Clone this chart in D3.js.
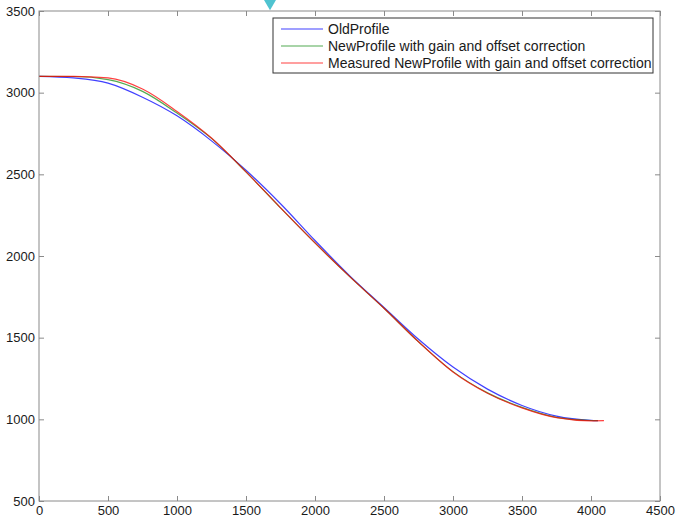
<!DOCTYPE html>
<html>
<head>
<meta charset="utf-8">
<script src="https://cdn.jsdelivr.net/npm/d3@7"></script>
<style>
  body { margin: 0; background: #fff; }
  svg text { font-family: "Liberation Sans", Arial, sans-serif; }
</style>
</head>
<body>
<svg width="677" height="522"></svg>
<script>
// values
var xTicks = [0, 500, 1000, 1500, 2000, 2500, 3000, 3500, 4000, 4500];
var yTicks = [500, 1000, 1500, 2000, 2500, 3000, 3500];

var oldX = [0, 250, 500, 750, 1000, 1250, 1500, 1750, 2000, 2250, 2500, 2750, 3000, 3250, 3500, 3750, 4000, 4050];
var oldY = [3100, 3090, 3058, 2972, 2858, 2705, 2525, 2320, 2095, 1880, 1685, 1490, 1320, 1185, 1085, 1020, 994, 992];

var newX = [0, 250, 500, 750, 1000, 1250, 1500, 1750, 2000, 2250, 2500, 2750, 3000, 3250, 3500, 3750, 4000, 4050];
var newY = [3100, 3099, 3080, 3008, 2875, 2720, 2515, 2295, 2080, 1875, 1680, 1475, 1292, 1162, 1073, 1012, 993, 992];

var measX = [0, 250, 500, 750, 1000, 1250, 1500, 1750, 2000, 2250, 2500, 2750, 3000, 3250, 3500, 3750, 4000, 4094];
var measY = [3100, 3100, 3090, 3022, 2885, 2722, 2515, 2295, 2080, 1875, 1680, 1475, 1290, 1160, 1070, 1010, 991, 992];

var seriesNames = ["OldProfile", "NewProfile with gain and offset correction", "Measured NewProfile with gain and offset correction"];
var seriesColors = ["#0000ff", "#1a8f1a", "#ff0000"];

var svg = d3.select("svg"),
    margin = {top: 11, right: 17, bottom: 21, left: 39},
    width = +svg.attr("width") - margin.left - margin.right,
    height = +svg.attr("height") - margin.top - margin.bottom;

var x = d3.scaleLinear().domain([0, 4500]).range([0, width]);
var y = d3.scaleLinear().domain([500, 3500]).range([height, 0]);

var g = svg.append("g")
    .attr("transform", "translate(" + margin.left + "," + margin.top + ")");

function zip(xs, ys) { return xs.map(function (d, i) { return {x: d, y: ys[i]}; }); }
var series = [zip(oldX, oldY), zip(newX, newY), zip(measX, measY)];

var line = d3.line()
    .x(function (d) { return x(d.x); })
    .y(function (d) { return y(d.y); })
    .curve(d3.curveMonotoneX);

series.forEach(function (s, i) {
  g.append("path")
    .datum(s)
    .attr("fill", "none")
    .attr("stroke", seriesColors[i])
    .attr("stroke-opacity", 0.75)
    .attr("stroke-width", 1.2)
    .attr("d", line);
});

// axes, MATLAB style: ticks inside, box on
var axisColor = "#8a8a8a";
function styleAxis(sel, showText) {
  sel.select(".domain").remove();
  sel.selectAll(".tick line").attr("stroke", axisColor);
  sel.selectAll(".tick text").attr("fill", "#1a1a1a").style("font-size", "13px");
  if (!showText) sel.selectAll(".tick text").remove();
}
var fmt = d3.format("d");

g.append("g")
    .attr("transform", "translate(0," + height + ")")
    .call(d3.axisBottom(x).tickValues(xTicks).tickFormat(fmt).tickSizeInner(-5).tickPadding(5))
    .call(styleAxis, true);
g.append("g")
    .call(d3.axisTop(x).tickValues(xTicks).tickSizeInner(-5))
    .call(styleAxis, false);
g.append("g")
    .call(d3.axisLeft(y).tickValues(yTicks).tickFormat(fmt).tickSizeInner(-5).tickPadding(4))
    .call(styleAxis, true);
g.append("g")
    .attr("transform", "translate(" + width + ",0)")
    .call(d3.axisRight(y).tickValues(yTicks).tickSizeInner(-5))
    .call(styleAxis, false);

g.append("rect")
    .attr("width", width)
    .attr("height", height)
    .attr("fill", "none")
    .attr("stroke", axisColor)
    .attr("stroke-width", 1);

// legend
var legend = g.append("g")
    .attr("transform", "translate(" + (273 - margin.left) + "," + (18 - margin.top) + ")");
legend.append("rect")
    .attr("width", 380)
    .attr("height", 55)
    .attr("fill", "#fff")
    .attr("stroke", "#333")
    .attr("stroke-width", 1);
seriesNames.forEach(function (name, i) {
  var ly = 11 + i * 17;
  legend.append("line")
    .attr("x1", 8).attr("x2", 50)
    .attr("y1", ly).attr("y2", ly)
    .attr("stroke", seriesColors[i])
    .attr("stroke-opacity", 0.75)
    .attr("stroke-width", 1.2);
  legend.append("text")
    .attr("x", 55)
    .attr("y", ly)
    .attr("dy", "0.35em")
    .attr("fill", "#1a1a1a")
    .style("font-size", "14px")
    .text(name);
});

// teal marker at the top edge of the picture
svg.append("path")
    .attr("d", d3.symbol().type(d3.symbolTriangle).size(70)())
    .attr("transform", "translate(270,3) rotate(180)")
    .attr("fill", "#4fc3d0");
</script>
</body>
</html>
